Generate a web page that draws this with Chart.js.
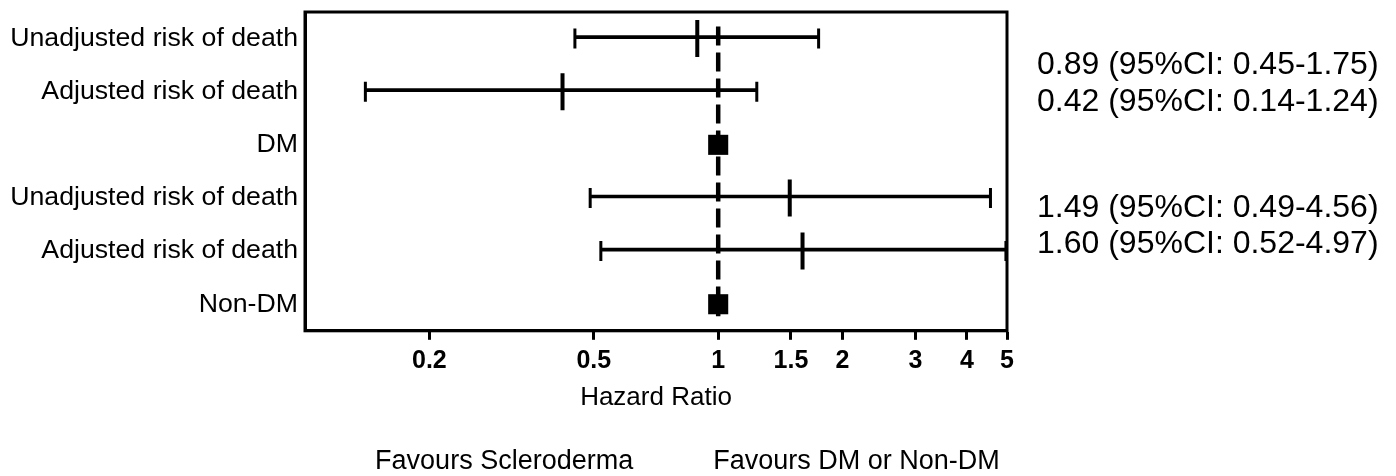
<!DOCTYPE html>
<html>
<head>
<meta charset="utf-8">
<script src="https://cdn.jsdelivr.net/npm/chart.js@4"></script>
<style>
  html, body { margin: 0; padding: 0; background: #fff; }
  #wrap { width: 1396px; height: 476px; }
</style>
</head>
<body>
<div id="wrap"><canvas id="forest" width="1396" height="476"></canvas></div>
<script>
// ---- Data ----
const rowLabels = ['Unadjusted risk of death', 'Adjusted risk of death', 'DM',
                   'Unadjusted risk of death', 'Adjusted risk of death', 'Non-DM'];
const hazardRatio = [0.89, 0.42, null, 1.49, 1.60, null];
const ciLower = [0.45, 0.14, null, 0.49, 0.52, null];
const ciUpper = [1.75, 1.24, null, 4.56, 4.97, null];
const referenceHR = [null, null, 1, null, null, 1];
const xTicks = [0.2, 0.5, 1, 1.5, 2, 3, 4, 5];
const ciNotes = ['0.89 (95%CI: 0.45-1.75)', '0.42 (95%CI: 0.14-1.24)',
                 '1.49 (95%CI: 0.49-4.56)', '1.60 (95%CI: 0.52-4.97)'];
const favourLabels = ['Favours Scleroderma', 'Favours DM or Non-DM'];

const FONT = 'Arial, "Liberation Sans", sans-serif';

// no extra label overhang padding above/below the plot
const noVertPadding = (scale) => {
  scale.paddingTop = 0;
  scale.paddingBottom = 0;
};

// ---- Frame + side texts ----
const framePlugin = {
  id: 'frame',
  beforeDatasetsDraw(chart) {
    const { ctx, chartArea: a } = chart;
    ctx.save();
    ctx.strokeStyle = '#000';
    ctx.lineWidth = 3;
    ctx.strokeRect(a.left, a.top, a.right - a.left, a.bottom - a.top);
    ctx.restore();
  }
};

const notesPlugin = {
  id: 'notes',
  afterDraw(chart) {
    const { ctx, chartArea: a } = chart;
    const x1 = chart.scales.x.getPixelForValue(1);
    ctx.save();
    ctx.fillStyle = '#000';
    ctx.textBaseline = 'middle';
    // CI notes on the right
    ctx.font = '32px ' + FONT;
    ctx.textAlign = 'left';
    const noteY = [65, 102, 208, 244];
    ciNotes.forEach((t, i) => ctx.fillText(t, a.right + 30, noteY[i]));
    // favours labels under the axis
    ctx.font = '27px ' + FONT;
    ctx.textAlign = 'right';
    ctx.fillText(favourLabels[0], x1 - 85, 462);
    ctx.textAlign = 'left';
    ctx.fillText(favourLabels[1], x1 - 5, 462);
    ctx.restore();
  }
};

// ---- Chart ----
new Chart(document.getElementById('forest'), {
  type: 'bar',
  data: {
    labels: rowLabels,
    datasets: [
      {
        // reference squares
        type: 'line',
        data: referenceHR,
        showLine: false,
        pointStyle: 'rect',
        pointRadius: 14.2,
        backgroundColor: '#000',
        borderColor: '#000',
        borderWidth: 0
      },
      {
        // point estimates
        type: 'line',
        data: hazardRatio,
        showLine: false,
        pointStyle: 'line',
        pointRotation: 90,
        pointRadius: 18.5,
        borderColor: '#000',
        borderWidth: 4
      },
      {
        // lower caps
        type: 'line',
        data: ciLower,
        showLine: false,
        pointStyle: 'line',
        pointRotation: 90,
        pointRadius: 10,
        borderColor: '#000',
        borderWidth: 3
      },
      {
        // upper caps
        type: 'line',
        data: ciUpper,
        showLine: false,
        pointStyle: 'line',
        pointRotation: 90,
        pointRadius: 10,
        borderColor: '#000',
        borderWidth: 3
      },
      {
        // confidence interval lines
        type: 'bar',
        data: ciLower.map((lo, i) => lo === null ? null : [lo, ciUpper[i]]),
        backgroundColor: '#000',
        borderWidth: 0,
        borderSkipped: false,
        barThickness: 3
      },
      {
        // line of no effect
        type: 'line',
        yAxisID: 'yRef',
        data: [{ x: 1, y: 1 }, { x: 1, y: 0 }],
        borderColor: '#000',
        borderWidth: 4.5,
        borderDash: [19, 7],
        pointRadius: 0,
        clip: false
      }
    ]
  },
  options: {
    indexAxis: 'y',
    responsive: false,
    animation: false,
    layout: { autoPadding: false, padding: { top: 12, left: 0, right: 389, bottom: 63 } },
    plugins: {
      legend: { display: false },
      tooltip: { enabled: false }
    },
    scales: {
      x: {
        type: 'logarithmic',
        min: 0.1,
        max: 5,
        afterBuildTicks: (scale) => { scale.ticks = xTicks.map(v => ({ value: v })); },
        afterFit: noVertPadding,
        grid: {
          drawOnChartArea: false,
          tickLength: 9,
          tickWidth: 3,
          tickColor: '#000'
        },
        border: { display: true, width: 3, color: '#000' },
        ticks: {
          color: '#000',
          padding: 6,
          maxRotation: 0,
          autoSkip: false,
          font: { family: FONT, size: 25, weight: 'bold' },
          callback: (v) => String(v)
        },
        title: {
          display: true,
          text: 'Hazard Ratio',
          color: '#000',
          padding: { top: 0, bottom: 0 },
          font: { family: FONT, size: 26 }
        }
      },
      y: {
        type: 'category',
        offset: true,
        afterFit: (scale) => {
          scale.width = 305;
          noVertPadding(scale);
        },
        grid: { display: false, drawTicks: false, tickLength: 0 },
        border: { display: true, width: 3, color: '#000' },
        ticks: {
          color: '#000',
          padding: 7,
          font: { family: FONT, size: 26.7 }
        }
      },
      yRef: {
        type: 'linear',
        display: false,
        min: 0,
        max: 1,
        afterFit: noVertPadding
      }
    }
  },
  plugins: [framePlugin, notesPlugin]
});
</script>
</body>
</html>
